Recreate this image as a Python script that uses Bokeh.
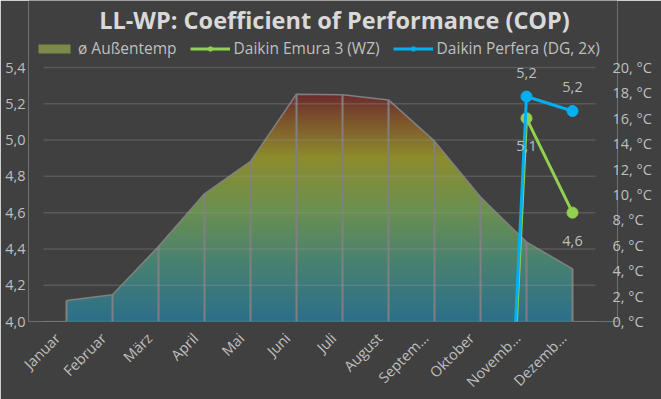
import numpy as np
from bokeh.plotting import figure
from bokeh.models import (Range1d, LinearAxis, FixedTicker, CustomJSTickFormatter,
                          Legend, LegendItem, Label)
from bokeh.embed import file_html
from bokeh.resources import INLINE
from bokeh.core.properties import value

# ---------------- data ----------------
months = ["Januar", "Februar", "März", "April", "Mai", "Juni", "Juli", "August",
          "September", "Oktober", "November", "Dezember"]
month_tick_labels = ["Januar", "Februar", "März", "April", "Mai", "Juni", "Juli", "August",
                     "Septem…", "Oktober", "Novemb…", "Dezemb…"]
avg_temp = [1.65, 2.1, 5.9, 10.05, 12.6, 17.9, 17.85, 17.45, 14.2, 9.8, 6.25, 4.15]
emura_cop = [None, None, None, None, None, None, None, None, None, 0.0, 5.12, 4.60]
perfera_cop = [None, None, None, None, None, None, None, None, None, 0.0, 5.24, 5.16]
cop_ticks = [4.0, 4.2, 4.4, 4.6, 4.8, 5.0, 5.2, 5.4]
temp_ticks = [0, 2, 4, 6, 8, 10, 12, 14, 16, 18, 20]
title_text = "LL-WP: Coefficient of Performance (COP)"

# ---------------- style / layout ----------------
FONT = "Open Sans"
BG = "#404040"
TXT = "#bfbfbf"
GREEN = "#92d050"
BLUE = "#00b0f0"
OUTLINE = "#808080"
PLOT_W, PLOT_H = 552, 254          # inner plot area (px)
PAD_L, PAD_R, PAD_T = 15, 22, 67   # frame extension for title + legend
FW, FH = PLOT_W + PAD_L + PAD_R, PLOT_H + PAD_T

n = len(months)
xpos = np.arange(1, n + 1)
cat_w = PLOT_W / n
cop_lo, cop_hi = cop_ticks[0], cop_ticks[-1]
t_lo, t_hi = temp_ticks[0], temp_ticks[-1]

p = figure(frame_width=FW, frame_height=FH,
           x_range=Range1d(0.5 - PAD_L / cat_w, n + 0.5 + PAD_R / cat_w),
           y_range=Range1d(cop_lo, cop_hi + (cop_hi - cop_lo) * PAD_T / PLOT_H),
           output_backend="svg", toolbar_location=None,
           background_fill_color=BG, border_fill_color=BG,
           outline_line_color=None,
           min_border_left=28, min_border_right=44,
           min_border_top=0, min_border_bottom=78)
p.extra_y_ranges = {"temp": Range1d(t_lo, t_hi + (t_hi - t_lo) * PAD_T / PLOT_H)}

# ---------------- gradient area (temperature) ----------------
stops_f = [0.0, 0.25, 0.5, 0.72, 0.86, 1.0]
stops_c = [(0x2c, 0x6e, 0x8a), (0x47, 0x80, 0x72), (0x6c, 0x90, 0x4e),
           (0x8c, 0x8c, 0x2c), (0x80, 0x5c, 0x2c), (0x6b, 0x2b, 0x2d)]


def grad_color(f):
    r = np.interp(f, stops_f, [c[0] for c in stops_c])
    g = np.interp(f, stops_f, [c[1] for c in stops_c])
    b = np.interp(f, stops_f, [c[2] for c in stops_c])
    return "#%02x%02x%02x" % (int(round(r)), int(round(g)), int(round(b)))


tmax = max(avg_temp)
dense_x = np.linspace(xpos[0], xpos[-1], 1101)
dense_t = np.interp(dense_x, xpos, avg_temp)
nb = 70
edges = np.linspace(0, tmax, nb + 1)[1:]
for i in range(nb - 1, -1, -1):
    top = edges[i]
    col = grad_color((top - tmax / nb / 2) / tmax)
    p.varea(x=dense_x, y1=np.zeros_like(dense_x), y2=np.minimum(dense_t, top),
            fill_color=col, y_range_name="temp", level="image")

p.segment(x0=xpos, y0=np.zeros(n), x1=xpos, y1=avg_temp,
          line_color=OUTLINE, line_width=2, y_range_name="temp", level="image")
p.line(x=xpos, y=avg_temp, line_color=OUTLINE, line_width=1.5,
       y_range_name="temp", level="image")
swatch = p.varea(x=[0.0], y1=[0.0], y2=[0.0], fill_color="#7b8a48",
                 y_range_name="temp")

# horizontal gridlines over the plot area only
p.segment(x0=[0.5] * len(cop_ticks), x1=[n + 0.5] * len(cop_ticks),
          y0=cop_ticks, y1=cop_ticks, line_color="#9a9a9a", line_alpha=0.28,
          line_width=1.5, level="underlay")

# ---------------- COP lines ----------------
def to_arr(v):
    return np.array([np.nan if a is None else a for a in v], dtype=float)


emura = to_arr(emura_cop)
perfera = to_arr(perfera_cop)

l1 = p.line(x=xpos, y=emura, line_color=GREEN, line_width=3)
s1 = p.scatter(x=xpos, y=emura, size=11, fill_color=GREEN, line_color=GREEN)
l2 = p.line(x=xpos, y=perfera, line_color=BLUE, line_width=3)
s2 = p.scatter(x=xpos, y=perfera, size=11, fill_color=BLUE, line_color=BLUE)


def labels(vals, off):
    xs, ys, ts = [], [], []
    for xi, v in zip(xpos, vals):
        if not np.isnan(v) and v >= cop_lo:
            xs.append(float(xi)); ys.append(float(v))
            ts.append(("%.1f" % v).replace(".", ","))
    p.text(x=xs, y=ys, text=ts, y_offset=off, text_align="center",
           text_baseline="middle", text_color=TXT, text_font=value(FONT),
           text_font_size="14.5px")


labels(emura, 28)
labels(perfera, -24)

# ---------------- axes ----------------
shift = 9 / cat_w   # rotated labels end slightly left of their category
p.xaxis.ticker = FixedTicker(ticks=[float(i) - shift for i in xpos])
p.xaxis.formatter = CustomJSTickFormatter(
    args=dict(labels=month_tick_labels, shift=shift),
    code="return labels[Math.round(tick + shift) - 1];")
p.xaxis.major_label_orientation = np.pi / 4
p.xaxis.axis_line_color = None
p.xaxis.major_tick_line_color = None
p.xaxis.minor_tick_line_color = None
p.xaxis.major_tick_out = 0
p.xaxis.major_label_text_color = TXT
p.xaxis.major_label_text_font = FONT
p.xaxis.major_label_text_font_size = "14.5px"
p.xaxis.major_label_standoff = 14

p.yaxis.ticker = FixedTicker(ticks=cop_ticks)
p.yaxis.formatter = CustomJSTickFormatter(code="return tick.toFixed(1).replace('.', ',');")
p.yaxis.axis_line_color = None
p.yaxis.major_tick_line_color = None
p.yaxis.minor_tick_line_color = None
p.yaxis.major_tick_out = 0
p.yaxis.major_label_text_color = TXT
p.yaxis.major_label_text_font = FONT
p.yaxis.major_label_text_font_size = "14.5px"
p.yaxis.major_label_standoff = 3

ax2 = LinearAxis(y_range_name="temp", ticker=FixedTicker(ticks=temp_ticks),
                 formatter=CustomJSTickFormatter(code="return tick.toFixed(0) + ', °C';"),
                 axis_line_color=None, major_tick_line_color=None,
                 minor_tick_line_color=None, major_tick_out=0,
                 major_label_text_color=TXT,
                 major_label_text_font=FONT, major_label_text_font_size="14.5px",
                 major_label_standoff=17 - PAD_R)
p.add_layout(ax2, "right")

p.xgrid.grid_line_color = None
p.ygrid.grid_line_color = None

# ---------------- title & legend (inside the extended frame) ----------------
p.add_layout(Label(x=306, y=FH - 19, x_units="screen", y_units="screen",
                   text=title_text, text_align="center", text_baseline="middle",
                   text_font=FONT, text_font_size="23.5px", text_font_style="bold",
                   text_color="#d9d9d9"))

legend = Legend(items=[LegendItem(label="ø Außentemp", renderers=[swatch]),
                       LegendItem(label="Daikin Emura 3 (WZ)", renderers=[l1, s1]),
                       LegendItem(label="Daikin Perfera (DG, 2x)", renderers=[l2, s2])],
                orientation="horizontal", location=(6, FH - 59),
                background_fill_alpha=0, border_line_color=None,
                label_text_color=TXT, label_text_font=FONT, label_text_font_size="15.5px",
                glyph_width=40, glyph_height=11, spacing=13, padding=0, margin=0,
                label_standoff=4)
p.add_layout(legend)

html = file_html(p, INLINE)
html = html.replace("<body>", '<body style="background-color:#404040;">', 1)
open("out.html", "w").write(html)
